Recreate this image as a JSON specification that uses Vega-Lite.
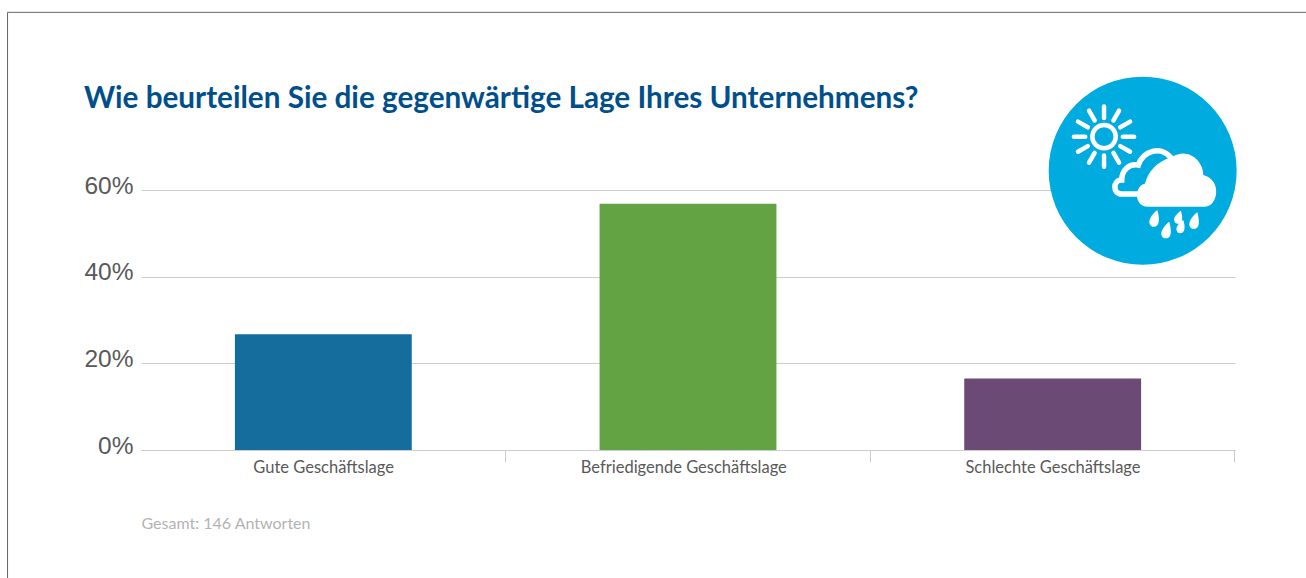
{
"$schema":"https://vega.github.io/schema/vega-lite/v6.json",
"autosize":"none","width":1094,"height":260,
"padding":{"left":141,"top":190,"right":71,"bottom":128},
"background":"white",
"title":{"text":"Wie beurteilen Sie die gegenwärtige Lage Ihres Unternehmens?","anchor":"start","frame":"group","dx":-57,"offset":-126,"baseline":"alphabetic","font":"Lato","fontWeight":"bold","fontSize":29.7,"color":"#004f8c"},
"config":{"view":{"stroke":null}},
"datasets":{
"answers":[{"lage":"Gute Geschäftslage","anteil":26.7},{"lage":"Befriedigende Geschäftslage","anteil":56.8},{"lage":"Schlechte Geschäftslage","anteil":16.5}],
"icon":[{"px":91.56,"py":64.45}],
"frame":[{"x0":-12.2,"x1":120,"y0":-40,"y1":101}]
},
"resolve":{"scale":{"x":"independent"}},
"layer":[
{"data":{"name":"frame"},"mark":{"type":"rect","fill":null,"fillOpacity":0,"stroke":"#666666","strokeWidth":1,"clip":false},
"encoding":{"x":{"field":"x0","type":"quantitative","scale":{"domain":[0,100]},"axis":null},"x2":{"field":"x1"},"y":{"field":"y0","type":"quantitative","scale":{"domain":[0,60]},
"axis":{"title":null,"values":[0,20,40,60],"format":"d","labelExpr":"datum.value+'%'","labelFont":"Liberation Sans","labelFontSize":24.5,"labelColor":"#595959","labelPadding":8,"labelOffset":-4,"tickSize":0,"domain":false,"grid":true,"gridColor":"#cccccc","gridWidth":1}},"y2":{"field":"y1"}}},
{"data":{"name":"answers"},"mark":{"type":"bar"},
"encoding":{
"x":{"field":"lage","type":"nominal","sort":null,"scale":{"paddingInner":0.515,"paddingOuter":0.2575},
"axis":{"title":"Gesamt: 146 Antworten","titleAnchor":"start","titleAlign":"left","titleX":0,"titleY":65,"titleFont":"Lato","titleFontSize":16,"titleFontWeight":"normal","titleColor":"#b3b3b3","labelAngle":0,"labelFont":"Lato","labelFontSize":16.5,"labelLimit":400,"labelColor":"#595959","labelPadding":-3,"tickOffset":181.8,"labelOffset":{"condition":{"test":"datum.value==='Befriedigende Geschäftslage'","value":-186.5},"value":-182},"tickSize":12,"tickColor":"#cccccc","domainColor":"#cccccc"}},
"y":{"field":"anteil","type":"quantitative","scale":{"domain":[0,60]}},
"color":{"field":"lage","type":"nominal","sort":null,"scale":{"range":["#156d9e","#63a343","#6b4b76"]},"legend":null}}},
{"data":{"name":"icon"},"mark":{"type":"point","shape":"circle","filled":true,"fill":"#00acdf","opacity":1,"size":35344,"clip":false},
"encoding":{"x":{"field":"px","type":"quantitative","scale":{"domain":[0,100]},"axis":null},"y":{"field":"py","type":"quantitative","scale":{"domain":[0,60]}}}},
{"data":{"name":"icon"},"mark":{"type":"point","shape":"M-.287 -.362A.124 .124 0 1 1 -.535 -.362A.124 .124 0 1 1 -.287 -.362ZM-.211 -.362L-.091 -.362M-.611 -.362L-.731 -.362M-.411 -.162L-.411 -.042M-.411 -.562L-.411 -.682M-.238 -.262L-.134 -.202M-.584 -.262L-.688 -.202M-.584 -.462L-.688 -.522M-.238 -.462L-.134 -.522M-.311 -.189L-.251 -.085M-.511 -.189L-.571 -.085M-.511 -.535L-.571 -.639M-.311 -.535L-.251 -.639","filled":false,"fill":null,"stroke":"white","strokeWidth":4.5,"strokeCap":"round","opacity":1,"size":35344},
"encoding":{"x":{"field":"px","type":"quantitative","scale":{"domain":[0,100]},"axis":null},"y":{"field":"py","type":"quantitative","scale":{"domain":[0,60]}}}},
{"data":{"name":"icon"},"mark":{"type":"point","shape":"M-.046 .248L-.223 .248C-.32 .248 -.32 .099 -.223 .099C-.223 0 -.152 -.078 -.046 -.06C.007 -.21 .184 -.27 .298 -.142","filled":false,"fill":null,"stroke":"white","strokeWidth":5.5,"strokeCap":"round","opacity":1,"size":35344},
"encoding":{"x":{"field":"px","type":"quantitative","scale":{"domain":[0,100]},"axis":null},"y":{"field":"py","type":"quantitative","scale":{"domain":[0,60]}}}},
{"data":{"name":"icon"},"mark":{"type":"point","shape":"M.06 .383L.663 .383C.80 .383 .85 .10 .645 .046C.65 -.10 .48 -.26 .309 -.142C.149 -.096 .06 .007 .025 .135C-.09 .16 -.10 .383 .06 .383Z M.156 .418c.015 .055 .02 .095 .015 .125c-.005 .07 -.1 .07 -.1 0c0 -.04 .05 -.1 .085 -.125z M.407 .425c.012 .04 .018 .07 .012 .095c-.005 .06 -.085 .06 -.085 0c0 -.03 .04 -.075 .073 -.095z M.581 .442c.015 .055 .02 .095 .015 .125c-.005 .07 -.1 .07 -.1 0c0 -.04 .05 -.1 .085 -.125z M.283 .542c.015 .055 .02 .095 .015 .125c-.005 .07 -.1 .07 -.1 0c0 -.04 .05 -.1 .085 -.125z M.432 .524c.012 .04 .018 .07 .012 .095c-.005 .06 -.085 .06 -.085 0c0 -.03 .04 -.075 .073 -.095z","filled":true,"fill":"white","opacity":1,"size":35344},
"encoding":{"x":{"field":"px","type":"quantitative","scale":{"domain":[0,100]},"axis":null},"y":{"field":"py","type":"quantitative","scale":{"domain":[0,60]}}}}
]
}
